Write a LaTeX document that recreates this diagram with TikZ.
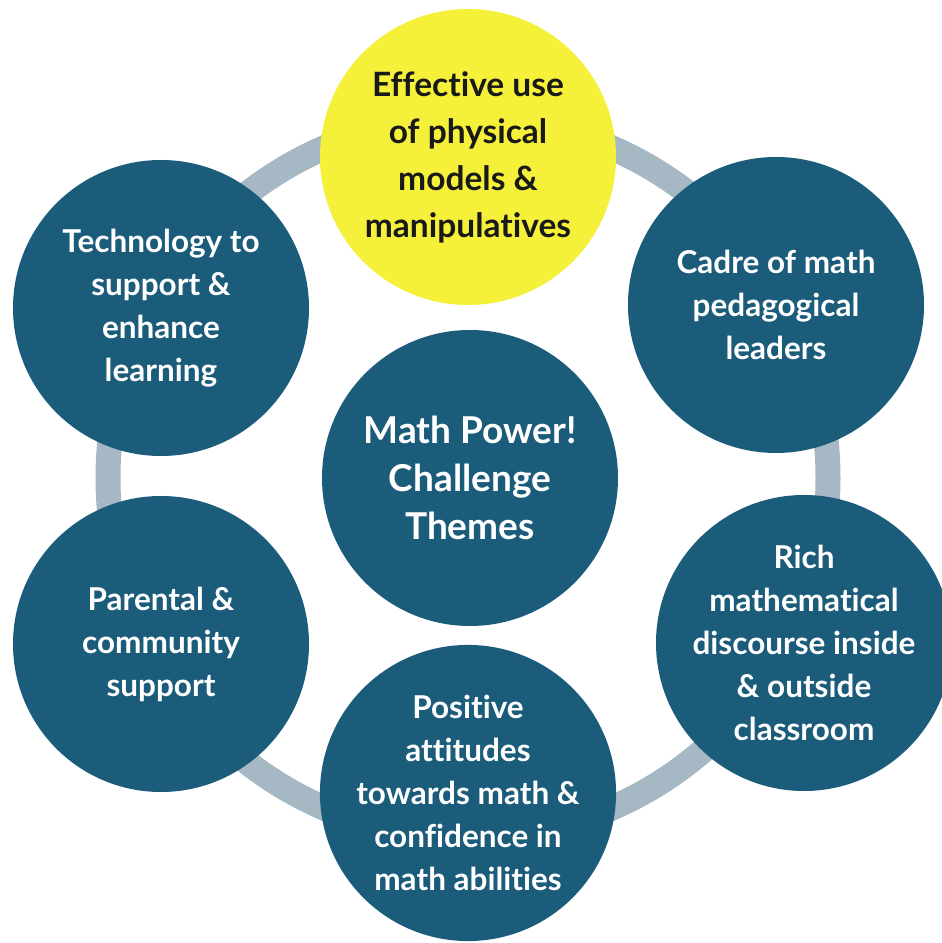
\documentclass[tikz,border=0pt]{standalone}
\usepackage{fontspec}
\setmainfont{Lato}[Ligatures={NoCommon,NoRare,NoDiscretionary}]
\definecolor{themeblue}{HTML}{1B5C7B}
\definecolor{ringgrey}{HTML}{A5B8C4}
\definecolor{hiyellow}{HTML}{F5F03A}
\begin{document}
\begin{tikzpicture}[x=1pt,y=1pt,
  theme/.style={circle, fill=themeblue, minimum size=296pt, inner sep=0pt,
    align=center, text=white, font=\fontsize{31.5}{43}\selectfont\bfseries},
  hitheme/.style={theme, fill=hiyellow, text=black!90, font=\fontsize{33.5}{47}\selectfont\bfseries},
  coretheme/.style={theme, font=\fontsize{37}{48}\selectfont\bfseries},
  ringline/.style={draw=ringgrey, line width=25pt}]
\useasboundingbox (0,0) rectangle (942,943);
\fill[white] (0,0) rectangle (942,943);
\coordinate (ringc) at (468,465);
\draw[ringline] (ringc) circle[radius=360];
\node[coretheme] (core) at (470,465) {Math Power!\\Challenge\\Themes};
\node[hitheme] (models) at (468,786) {Effective use\\of physical\\models \&\\manipulatives};
\node[theme] (cadre) at (776,638) {Cadre of math\\pedagogical\\leaders};
\node[theme] (rich) at (804,300) {Rich\\mathematical\\discourse inside\\\& outside\\classroom};
\node[theme] (positive) at (468,150) {Positive\\attitudes\\towards math \&\\confidence in\\math abilities};
\node[theme] (parental) at (161,299) {Parental \&\\community\\support};
\node[theme] (tech) at (161,635) {Technology to\\support \&\\enhance\\learning};
\end{tikzpicture}
\end{document}
